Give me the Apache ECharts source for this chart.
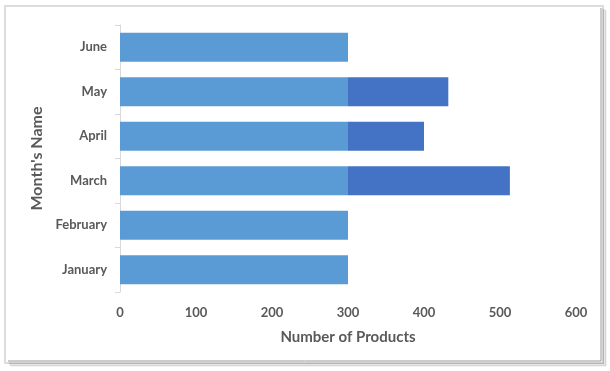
<!DOCTYPE html>
<html><head><meta charset="utf-8">
<script src="https://cdn.jsdelivr.net/npm/echarts@6/dist/echarts.min.js"></script>
<style>html,body{margin:0;padding:0;background:#fff}#c{width:610px;height:371px}</style>
</head><body><div id="c"></div>
<script>
const months = ['January','February','March','April','May','June'];
const baseProducts = [300, 300, 300, 300, 300, 300];
const extraProducts = [0, 0, 213, 100, 132, 0];
const xTicks = [0, 100, 200, 300, 400, 500, 600];

const chart = echarts.init(document.getElementById('c'), null, {renderer:'canvas'});
const font = 'Lato, "Open Sans", sans-serif';
chart.setOption({
  animation:false,
  backgroundColor:'#fff',
  graphic:[
    {type:'rect', shape:{x:5,y:6,width:598,height:357}, style:{fill:'none', stroke:'#dcdcdc', lineWidth:2}, silent:true},
    {type:'polyline', shape:{points:[[601,8],[601,361],[8,361]]}, style:{fill:'none', stroke:'#9a9a9a', lineWidth:1}, silent:true},
    {type:'polyline', shape:{points:[[603.5,9],[603.5,363.5],[9,363.5]]}, style:{fill:'none', stroke:'#b5b5b5', lineWidth:1.5}, silent:true},
    {type:'polyline', shape:{points:[[605.5,10],[605.5,365.5],[10,365.5]]}, style:{fill:'none', stroke:'#d5d5d5', lineWidth:1.5}, silent:true}
  ],
  grid:{left:120, right:34, top:25, bottom:79, containLabel:false},
  xAxis:{
    type:'value', min:xTicks[0], max:xTicks[xTicks.length-1], interval:100,
    axisLine:{show:false}, axisTick:{show:false}, splitLine:{show:false},
    axisLabel:{color:'#595959', fontFamily:font, fontSize:13, fontWeight:'bold', margin:14},
    name:'Number of Products', nameLocation:'middle', nameGap:38,
    nameTextStyle:{color:'#595959', fontFamily:font, fontSize:15, fontWeight:'bold'}
  },
  yAxis:{
    type:'category', data:months,
    axisLine:{show:true, lineStyle:{color:'#d9d9d9'}},
    axisTick:{show:true, length:5, lineStyle:{color:'#d9d9d9'}},
    axisLabel:{color:'#595959', fontFamily:font, fontSize:13, fontWeight:'bold', margin:13},
    name:"Month's Name", nameLocation:'middle', nameGap:74, nameRotate:90,
    nameTextStyle:{color:'#595959', fontFamily:font, fontSize:16, fontWeight:'bold'}
  },
  series:[
    {type:'bar', stack:'a', data:baseProducts, barCategoryGap:'35%', itemStyle:{color:'#5B9BD5'}},
    {type:'bar', stack:'a', data:extraProducts, barCategoryGap:'35%', itemStyle:{color:'#4472C4'}}
  ]
});
</script></body></html>
